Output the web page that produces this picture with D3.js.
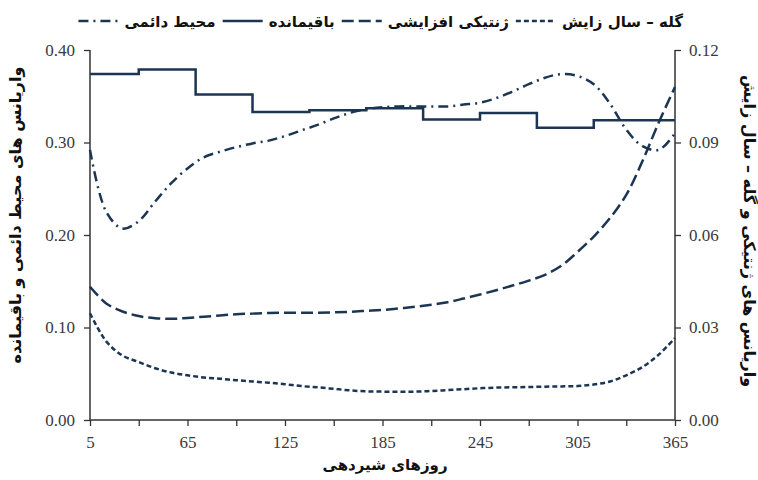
<!DOCTYPE html>
<html>
<head>
<meta charset="utf-8">
<script src="https://cdn.jsdelivr.net/npm/d3@7"></script>
<style>
  body { margin: 0; background: #fff; }
  .num { font-family: "Liberation Serif", "Times New Roman", serif; }
  .fa { font-family: "DejaVu Sans", sans-serif; font-weight: bold; fill: #111; }
</style>
</head>
<body>
<div id="graph"></div>
<script>
// days in milk
var days = [5, 15, 25, 35, 45, 55, 65, 75, 85, 95, 105, 115, 125, 135, 145, 155, 165, 175, 185,
            195, 205, 215, 225, 235, 245, 255, 265, 275, 285, 295, 305, 315, 325, 335, 345, 355, 365];

// left axis: permanent environment
var permEnv = [0.292, 0.225, 0.207, 0.215, 0.236, 0.256, 0.272, 0.284, 0.290, 0.295, 0.299, 0.302,
               0.307, 0.313, 0.319, 0.326, 0.332, 0.336, 0.338, 0.339, 0.339, 0.339, 0.339, 0.341,
               0.343, 0.348, 0.355, 0.363, 0.370, 0.374, 0.372, 0.363, 0.342, 0.314, 0.296, 0.292, 0.310];

// right axis: additive genetic
var addGen = [0.0432, 0.0378, 0.0352, 0.0337, 0.0330, 0.0328, 0.0331, 0.0335, 0.0339, 0.0343, 0.0345,
              0.0347, 0.0348, 0.0348, 0.0348, 0.0349, 0.0351, 0.0354, 0.0357, 0.0362, 0.0367, 0.0374,
              0.0382, 0.0394, 0.0407, 0.0421, 0.0436, 0.0452, 0.0471, 0.0500, 0.0545, 0.0595, 0.0655,
              0.0730, 0.0840, 0.0965, 0.1080];

// right axis: herd - calving year
var herdYear = [0.0346, 0.0255, 0.0209, 0.0188, 0.0168, 0.0154, 0.0145, 0.0138, 0.0134, 0.0129, 0.0125,
                0.0121, 0.0116, 0.0110, 0.0106, 0.0101, 0.0096, 0.0093, 0.0092, 0.0092, 0.0092, 0.0094,
                0.0097, 0.0100, 0.0103, 0.0105, 0.0106, 0.0107, 0.0108, 0.0109, 0.0110, 0.0115, 0.0125,
                0.0145, 0.0172, 0.0212, 0.0266];

// left axis: residual (step classes)
var resDays = [5, 35, 70, 105, 140, 175, 210, 245, 280, 315, 365];
var residual = [0.374, 0.379, 0.352, 0.333, 0.335, 0.337, 0.325, 0.332, 0.316, 0.324, 0.324];

var xTicks = [5, 35, 65, 95, 125, 155, 185, 215, 245, 275, 305, 335, 365];
var xLabels = [5, 65, 125, 185, 245, 305, 365];
var leftTicks = [0, 0.1, 0.2, 0.3, 0.4];
var rightTicks = [0, 0.03, 0.06, 0.09, 0.12];

var legendNames = ["گله – سال زایش", "ژنتیکی افزایشی", "باقیمانده", "محیط دائمی"];
var legendDash = ["5,3", "12,5", null, "10,5,2,5"];

var xTitle = "روزهای شیردهی";
var leftTitle = "واریانس های محیط دائمی و باقیمانده";
var rightTitle = "واریانس های ژنتیکی و گله – سال زایش";

var width = 758, height = 480;
var margin = {top: 50, right: 83, bottom: 60, left: 90};
var lineColor = "#1c3553";

var svg = d3.select("#graph").append("svg")
    .attr("width", width)
    .attr("height", height);

var x = d3.scaleLinear().domain([5, 365]).range([margin.left, width - margin.right]);
var yL = d3.scaleLinear().domain([0, 0.4]).range([height - margin.bottom, margin.top]);
var yR = d3.scaleLinear().domain([0, 0.12]).range([height - margin.bottom, margin.top]);

// axes
var xAxis = d3.axisBottom(x)
    .tickValues(xTicks)
    .tickSize(6)
    .tickPadding(10)
    .tickFormat(function(d) { return xLabels.indexOf(d) >= 0 ? d : ""; });

var gx = svg.append("g")
    .attr("transform", "translate(0," + (height - margin.bottom) + ")")
    .call(xAxis);

var gl = svg.append("g")
    .attr("transform", "translate(" + margin.left + ",0)")
    .call(d3.axisLeft(yL).tickValues(leftTicks).tickSize(6).tickPadding(9).tickFormat(d3.format(".2f")));

var gr = svg.append("g")
    .attr("transform", "translate(" + (width - margin.right) + ",0)")
    .call(d3.axisRight(yR).tickValues(rightTicks).tickSize(6).tickPadding(8).tickFormat(d3.format(".2f")));

[gx, gl, gr].forEach(function(g) {
  g.attr("font-family", null).attr("font-size", null)
  g.select(".domain").attr("stroke", "#333").attr("stroke-width", 1.5)
  g.selectAll(".tick line").attr("stroke", "#333").attr("stroke-width", 1.3)
  g.selectAll(".tick text")
    .attr("class", "num")
    .attr("fill", "#3a3a3a")
    .style("font-size", "17px")
});
// plain axis lines without end stubs
gx.select(".domain").attr("d", "M" + x.range()[0] + ",0H" + x.range()[1]);
gl.select(".domain").attr("d", "M0," + yL.range()[0] + "V" + yL.range()[1]);
gr.select(".domain").attr("d", "M0," + yR.range()[0] + "V" + yR.range()[1]);

// lines
var lineL = d3.line()
    .x(function(d) { return x(d[0]); })
    .y(function(d) { return yL(d[1]); })
    .curve(d3.curveCatmullRom.alpha(0.5));

var lineR = d3.line()
    .x(function(d) { return x(d[0]); })
    .y(function(d) { return yR(d[1]); })
    .curve(d3.curveCatmullRom.alpha(0.5));

var stepLine = d3.line()
    .x(function(d) { return x(d[0]); })
    .y(function(d) { return yL(d[1]); })
    .curve(d3.curveStepAfter);

function draw(path, data, dash, w) {
  svg.append("path")
    .datum(data)
    .attr("fill", "none")
    .attr("stroke", lineColor)
    .attr("stroke-width", w)
    .attr("stroke-dasharray", dash)
    .attr("d", path);
}

draw(lineR, days.map(function(d, i) { return [d, herdYear[i]]; }), "5,3", 2.5);
draw(lineR, days.map(function(d, i) { return [d, addGen[i]]; }), "12,5", 2.5);
draw(lineL, days.map(function(d, i) { return [d, permEnv[i]]; }), "10,5,2,5", 2.5);
draw(stepLine, resDays.map(function(d, i) { return [d, residual[i]]; }), null, 2.5);

// axis titles
svg.append("text")
  .attr("class", "fa")
  .attr("x", 385)
  .attr("y", 470)
  .attr("text-anchor", "middle")
  .style("font-size", "15px")
  .text(xTitle);

svg.append("text")
  .attr("class", "fa")
  .attr("transform", "translate(21,215) rotate(-90)")
  .attr("text-anchor", "middle")
  .style("font-size", "16px")
  .text(leftTitle);

svg.append("text")
  .attr("class", "fa")
  .attr("transform", "translate(744,231) rotate(90)")
  .attr("text-anchor", "middle")
  .style("font-size", "16px")
  .text(rightTitle);

// legend, laid out right to left
var cursor = 683;
var legY = 21;
legendNames.forEach(function(name, i) {
  var t = svg.append("text")
    .attr("class", "fa")
    .attr("x", cursor)
    .attr("y", legY + 6)
    .attr("text-anchor", "end")
    .style("font-size", "15px")
    .text(name);
  cursor -= t.node().getComputedTextLength() + 6;
  svg.append("line")
    .attr("x1", cursor - 40).attr("x2", cursor)
    .attr("y1", legY).attr("y2", legY)
    .attr("stroke", lineColor)
    .attr("stroke-width", 2.5)
    .attr("stroke-dasharray", legendDash[i]);
  cursor -= 40 + 7;
});
</script>
</body>
</html>
